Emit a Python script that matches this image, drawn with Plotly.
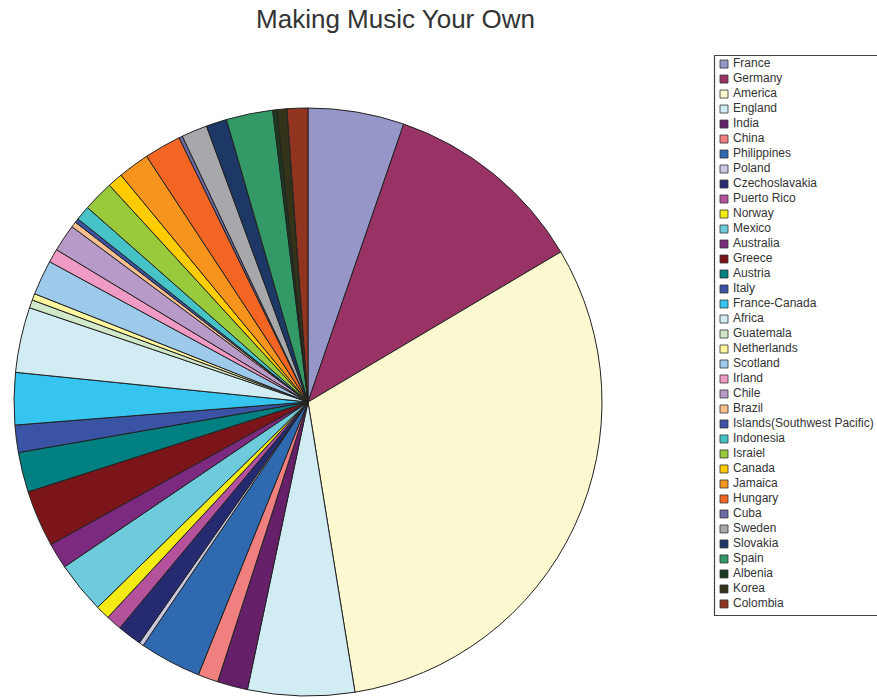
import plotly.graph_objects as go

countries = ["France", "Germany", "America", "England", "India", "China", "Philippines",
             "Poland", "Czechoslavakia", "Puerto Rico", "Norway", "Mexico", "Australia",
             "Greece", "Austria", "Italy", "France-Canada", "Africa", "Guatemala",
             "Netherlands", "Scotland", "Irland", "Chile", "Brazil",
             "Islands(Southwest Pacific)", "Indonesia", "Israiel", "Canada", "Jamaica",
             "Hungary", "Cuba", "Sweden", "Slovakia", "Spain", "Albenia", "Korea", "Colombia"]

values = [19.0, 40.3, 111.5, 21.1, 6.0, 4.0, 12.2,
          0.9, 4.8, 3.1, 2.8, 10.2, 5.1,
          11.2, 7.9, 5.4, 10.3, 12.9, 1.6,
          1.3, 6.9, 2.7, 5.4, 1.1,
          0.8, 2.9, 6.1, 3.0, 6.2,
          7.3, 0.7, 5.1, 4.1, 9.2, 0.8, 2.0, 4.1]

colors = ["#9696C8", "#993366", "#FCF8D0", "#D2ECF3", "#66206A", "#F08080", "#2F6AB0",
          "#C8C8E0", "#262A70", "#B5529E", "#F5EB14", "#6DCBDB", "#7B2A7F",
          "#7B1519", "#008080", "#3A53A4", "#35C5F0", "#D2ECF3", "#D1E8C9",
          "#FFF6A0", "#9DC9EA", "#F09BC5", "#B89AC9", "#FAC090",
          "#3A53A4", "#46C3C6", "#99CA3C", "#FFCC00", "#F7941E",
          "#F26522", "#6C6BA5", "#A6A8AB", "#1D3767", "#339966", "#1A3A20", "#333319", "#923520"]

W, H = 877, 698
fig = go.Figure()

fig.add_trace(go.Pie(
    labels=countries, values=values, sort=False, direction="clockwise", rotation=0,
    marker=dict(colors=colors, line=dict(color="#222222", width=1)),
    textinfo="none", showlegend=False,
    domain=dict(x=[14 / W, 602 / W], y=[(H - 696) / H, (H - 108) / H]),
))

# custom legend drawn on its own axes: swatches and labels
idx = list(range(len(countries)))
fig.add_trace(go.Scatter(
    x=[10] * len(countries), y=idx, mode="markers",
    marker=dict(symbol="square", size=8, color=colors, line=dict(color="#333333", width=0.8)),
    xaxis="x2", yaxis="y2", showlegend=False, hoverinfo="skip", cliponaxis=False,
))
fig.add_trace(go.Scatter(
    x=[19] * len(countries), y=idx, mode="text",
    text=countries, textposition="middle right",
    textfont=dict(family="Liberation Sans, Arial, sans-serif", size=12, color="#333333"),
    xaxis="x2", yaxis="y2", showlegend=False, hoverinfo="text", cliponaxis=False,
))

fig.update_layout(
    width=W, height=H,
    margin=dict(l=0, r=0, t=0, b=0),
    paper_bgcolor="white", plot_bgcolor="rgba(0,0,0,0)",
    title=dict(text="Making Music Your Own", x=395.5 / W, xanchor="center",
               y=1 - 19 / H, yanchor="middle",
               font=dict(family="Liberation Sans, Arial, sans-serif", size=26, color="#333333")),
    xaxis2=dict(domain=[714 / W, 1.0], range=[0, 163], visible=False, fixedrange=True),
    yaxis2=dict(domain=[(H - 615.5) / H, (H - 55.5) / H], range=[36.77, -0.57],
                visible=False, fixedrange=True, anchor="x2"),
    shapes=[dict(type="rect", xref="paper", yref="paper",
                 x0=714.5 / W, x1=1.01, y0=(H - 615.5) / H, y1=(H - 55.5) / H,
                 line=dict(color="#444444", width=1.2), fillcolor="rgba(0,0,0,0)")],
)

fig.write_html("out.html")
